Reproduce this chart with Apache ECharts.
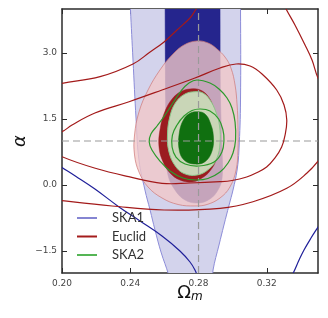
<!DOCTYPE html>
<html><head><meta charset="utf-8">
<script src="https://cdn.jsdelivr.net/npm/echarts@6/dist/echarts.min.js"></script>
<style>html,body{margin:0;padding:0;background:#fff}#c{width:328px;height:318px}</style>
</head><body><div id="c"></div>
<script>
const xMin = 0.20, xMax = 0.35, yMin = -2, yMax = 4;
const xTicks = [0.20, 0.24, 0.28, 0.32];
const yTicks = [-1.5, 0.0, 1.5, 3.0];
const refX = 0.28, refY = 1.0;
const legendNames = ['SKA1', 'Euclid', 'SKA2'];

// SKA1 filled contours (2σ light, 1σ dark)
const ska1Fill2 = [[0.2398,4.3],[0.2401,4.0],[0.2416,2.841],[0.2434,1.5],[0.2451,0.568],[0.2486,-0.114],[0.2516,-0.568],[0.2545,-1.023],[0.2580,-1.523],[0.2625,-2.045],[0.2645,-2.386],[0.2750,-2.61],[0.2873,-2.386],[0.2885,-1.932],[0.2920,-1.364],[0.2949,-0.909],[0.2979,-0.455],[0.3002,-0.114],[0.3026,0.341],[0.3037,0.795],[0.3046,1.932],[0.3046,4.0],[0.3043,4.3]];
const ska1Fill1 = [[0.2604,4.3],[0.2604,4.0],[0.2607,1.932],[0.2609,0.795],[0.2621,0.227],[0.2662,-0.114],[0.2721,-0.341],[0.2797,-0.409],[0.2867,-0.318],[0.2914,-0.114],[0.2938,0.159],[0.2938,0.795],[0.2929,1.932],[0.2926,4.0],[0.2926,4.3]];
// SKA1 line contour (two visible arcs)
const ska1LineA = [[0.1959,0.5],[0.2000,0.398],[0.2078,0.205],[0.2193,-0.091],[0.2332,-0.493],[0.2457,-0.818],[0.2586,-1.159],[0.2691,-1.5],[0.2750,-1.75],[0.2779,-1.932],[0.2797,-2.114]];
const ska1LineB = [[0.3336,-2.114],[0.3355,-2.0],[0.3389,-1.705],[0.3418,-1.477],[0.3459,-1.205],[0.3500,-0.955],[0.3523,-0.818]];

// Euclid filled contours
const euclidFill2 = [[0.2791,3.273],[0.2856,3.227],[0.2908,3.091],[0.2955,2.909],[0.2990,2.659],[0.3014,2.273],[0.3026,1.818],[0.3031,1.364],[0.3031,0.795],[0.3020,0.341],[0.2984,-0.045],[0.2926,-0.295],[0.2850,-0.443],[0.2779,-0.477],[0.2680,-0.443],[0.2586,-0.295],[0.2504,-0.045],[0.2451,0.295],[0.2425,0.682],[0.2425,1.136],[0.2451,1.659],[0.2504,2.159],[0.2574,2.614],[0.2645,2.955],[0.2715,3.182]];
const euclidFill1 = [[0.2750,2.182],[0.2803,2.170],[0.2850,2.045],[0.2885,1.795],[0.2908,1.432],[0.2917,0.977],[0.2902,0.568],[0.2867,0.318],[0.2820,0.159],[0.2762,0.068],[0.2691,0.114],[0.2633,0.273],[0.2590,0.545],[0.2568,0.886],[0.2576,1.295],[0.2602,1.659],[0.2645,1.955],[0.2697,2.125]];
// Euclid line contours
const euclidLine1 = [[0.1871,1.023],[0.2000,1.211],[0.2059,1.364],[0.2193,1.636],[0.2393,1.893],[0.2586,2.159],[0.2779,2.432],[0.2926,2.659],[0.3020,2.75],[0.3102,2.705],[0.3172,2.523],[0.3258,2.159],[0.3301,1.818],[0.3317,1.477],[0.3307,1.136],[0.3287,0.864],[0.3248,0.614],[0.3199,0.409],[0.3137,0.273],[0.3082,0.182],[0.2996,0.102],[0.2926,0.075],[0.2750,0.045],[0.2586,0.038],[0.2391,0.189],[0.2195,0.380],[0.2000,0.643],[0.1871,0.909]];
const euclidLine2 = [[0.1871,2.205],[0.2000,2.311],[0.2223,2.462],[0.2416,2.75],[0.2516,3.023],[0.2598,3.25],[0.2674,3.523],[0.2750,3.795],[0.2809,4.09],[0.3043,4.66],[0.3277,4.32],[0.3307,4.045],[0.3365,3.636],[0.3424,3.182],[0.3465,2.841],[0.3500,2.432],[0.3570,1.932],[0.3600,1.023],[0.3541,0.795],[0.3506,0.568],[0.3434,0.266],[0.3317,-0.075],[0.3119,-0.380],[0.2926,-0.530],[0.2598,-0.568],[0.2293,-0.477],[0.2000,-0.357],[0.1871,-0.295]];

// SKA2 filled contours
const ska2Fill2 = [[0.2779,2.120],[0.2826,2.091],[0.2867,1.932],[0.2902,1.659],[0.2923,1.341],[0.2926,0.955],[0.2908,0.614],[0.2861,0.364],[0.2791,0.227],[0.2715,0.261],[0.2664,0.432],[0.2627,0.75],[0.2618,1.136],[0.2633,1.568],[0.2668,1.886],[0.2721,2.068]];
const ska2Fill1 = [[0.2799,1.666],[0.2838,1.614],[0.2867,1.432],[0.2887,1.114],[0.2879,0.773],[0.2838,0.530],[0.2774,0.477],[0.2715,0.568],[0.2687,0.795],[0.2687,1.175],[0.2711,1.477],[0.2750,1.630]];
// SKA2 line contours
const ska2Line2 = [[0.2791,2.386],[0.2867,2.318],[0.2920,2.182],[0.2967,1.977],[0.2996,1.75],[0.3014,1.432],[0.3017,1.023],[0.3002,0.727],[0.2973,0.5],[0.2926,0.295],[0.2855,0.148],[0.2785,0.114],[0.2709,0.159],[0.2633,0.318],[0.2574,0.545],[0.2527,0.795],[0.2511,0.977],[0.2521,1.159],[0.2557,1.341],[0.2604,1.591],[0.2650,1.864],[0.2697,2.136],[0.2744,2.318]];
const ska2Line1 = [[0.2809,1.727],[0.2867,1.682],[0.2918,1.5],[0.2943,1.25],[0.2949,1.023],[0.2937,0.75],[0.2891,0.523],[0.2803,0.432],[0.2721,0.477],[0.2668,0.636],[0.2645,0.864],[0.2647,1.136],[0.2674,1.364],[0.2715,1.568],[0.2762,1.693]];

function shapeSeries(name, shapes, style, closed, filled, smooth) {
  return {
    type: 'custom', name: name, coordinateSystem: 'cartesian2d',
    data: [[xMin, yMin]], silent: true, animation: false,
    renderItem: function (params, api) {
      const cs = params.coordSys;
      return {
        type: 'group',
        clipPath: { type: 'rect', shape: { x: cs.x, y: cs.y, width: cs.width, height: cs.height } },
        children: shapes.map(function (pts) {
          return {
            type: closed ? 'polygon' : 'polyline',
            shape: { points: pts.map(function (p) { return api.coord(p); }), smooth: smooth },
            style: Object.assign({}, style, filled ? {} : { fill: 'none' })
          };
        })
      };
    }
  };
}

const refSeries = {
  type: 'custom', name: 'ref', coordinateSystem: 'cartesian2d', data: [[refX, refY]], silent: true, animation: false,
  renderItem: function (params, api) {
    const a = api.coord([refX, yMin]), b = api.coord([refX, yMax]);
    const c = api.coord([xMin, refY]), d = api.coord([xMax, refY]);
    const st = { stroke: '#9a9a9a', lineWidth: 1.2, lineDash: [7, 4], fill: 'none' };
    return { type: 'group', children: [
      { type: 'line', shape: { x1: a[0], y1: a[1], x2: b[0], y2: b[1] }, style: st },
      { type: 'line', shape: { x1: c[0], y1: c[1], x2: d[0], y2: d[1] }, style: st }
    ]};
  }
};

function xAxisCfg(pos, showLabel) {
  return {
    type: 'value', position: pos, min: xMin, max: xMax,
    axisLine: { show: true, onZero: false, lineStyle: { color: '#2b2b2b', width: 1.5 } },
    axisTick: { show: true, inside: true, length: 5, customValues: xTicks, lineStyle: { color: '#2b2b2b', width: 1 } },
    axisLabel: { show: showLabel, customValues: xTicks, margin: 6, color: '#444', fontSize: 9, fontFamily: 'DejaVu Sans',
      formatter: function (v) { return v.toFixed(2); } },
    splitLine: { show: false },
    name: showLabel ? '{o|\u03A9}{m|m}' : '', nameLocation: 'middle', nameGap: 10, nameMoveOverlap: false,
    nameTextStyle: { rich: {
      o: { fontFamily: 'DejaVu Sans', fontSize: 18, color: '#111' },
      m: { fontFamily: 'DejaVu Sans', fontStyle: 'italic', fontSize: 12, color: '#111', padding: [8, 0, 0, 0] }
    } }
  };
}
function yAxisCfg(pos, showLabel) {
  return {
    type: 'value', position: pos, min: yMin, max: yMax,
    axisLine: { show: true, onZero: false, lineStyle: { color: '#2b2b2b', width: 1.5 } },
    axisTick: { show: true, inside: true, length: 5, customValues: yTicks, lineStyle: { color: '#2b2b2b', width: 1 } },
    axisLabel: { show: showLabel, customValues: yTicks, margin: 5, color: '#444', fontSize: 9, fontFamily: 'DejaVu Sans',
      formatter: function (v) { return (v < 0 ? '\u2212' : '') + Math.abs(v).toFixed(1); } },
    splitLine: { show: false },
    name: showLabel ? '\u03B1' : '', nameLocation: 'middle', nameGap: 33, nameRotate: 90, nameMoveOverlap: false,
    nameTextStyle: { fontFamily: 'DejaVu Sans', fontStyle: 'italic', fontSize: 18, color: '#111' }
  };
}

const chart = echarts.init(document.getElementById('c'), null, { renderer: 'canvas' });
chart.setOption({
  animation: false,
  grid: { left: 62, right: 10, top: 9, bottom: 45, containLabel: false },
  xAxis: [xAxisCfg('bottom', true), xAxisCfg('top', false)],
  yAxis: [yAxisCfg('left', true), yAxisCfg('right', false)],
  legend: {
    orient: 'vertical', left: 77, top: 211, padding: 0, itemWidth: 20, itemHeight: 2, itemGap: 4.5,
    icon: 'rect', selectedMode: false,
    textStyle: { fontFamily: 'Lato', fontSize: 13, color: '#333', lineHeight: 14, padding: [0, 0, 0, 10] },
    data: [
      { name: legendNames[0], itemStyle: { color: '#8585d2' } },
      { name: legendNames[1], itemStyle: { color: '#a41c1c' } },
      { name: legendNames[2], itemStyle: { color: '#55b555' } }
    ]
  },
  series: [
    shapeSeries('ska1f2', [ska1Fill2], { fill: '#d3d3ec', stroke: '#8c8cd8', lineWidth: 1 }, true, true, 0.4),
    shapeSeries('ska1f1', [ska1Fill1], { fill: '#25258d', stroke: '#25258d', lineWidth: 0.5 }, true, true, 0.4),
    shapeSeries('eucf2', [euclidFill2], { fill: 'rgba(242,200,200,0.78)', stroke: 'rgba(205,120,120,0.7)', lineWidth: 1 }, true, true, 0.4),
    shapeSeries('eucf1', [euclidFill1], { fill: '#9b1c20', stroke: '#9b1c20', lineWidth: 0.5 }, true, true, 0.4),
    shapeSeries('ska2f2', [ska2Fill2], { fill: '#c9d6b7', stroke: '#8cc88c', lineWidth: 1 }, true, true, 0.4),
    shapeSeries('ska2f1', [ska2Fill1], { fill: '#107010', stroke: '#107010', lineWidth: 0.5 }, true, true, 0.4),
    refSeries,
    shapeSeries(legendNames[0], [ska1LineA, ska1LineB], { stroke: '#1f1f99', lineWidth: 1.2 }, false, false, 0.4),
    shapeSeries(legendNames[1], [euclidLine1, euclidLine2], { stroke: '#a31a1a', lineWidth: 1.2 }, true, false, 0.4),
    shapeSeries(legendNames[2], [ska2Line1, ska2Line2], { stroke: '#2b9a2b', lineWidth: 1.2 }, true, false, 0.4)
  ]
});
</script></body></html>
